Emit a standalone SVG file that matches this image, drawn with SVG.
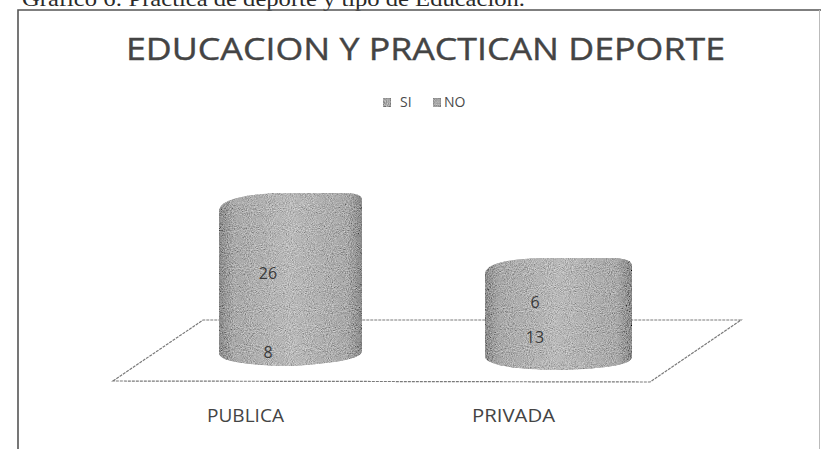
<svg xmlns="http://www.w3.org/2000/svg" width="821" height="449" viewBox="0 0 821 449">
<style>
.cap{font-family:"Liberation Serif","Times New Roman",serif;font-size:21px;fill:#2a2a2a}
.title{font-family:"Open Sans","Liberation Sans",sans-serif;font-size:31px;fill:#444;stroke:#444;stroke-width:0.4}
.leg{font-family:"Open Sans","Liberation Sans",sans-serif;font-size:14px;fill:#4a4a4a}
.cat{font-family:"Open Sans","Liberation Sans",sans-serif;font-size:19px;fill:#444}
.val{font-family:"Open Sans","Liberation Sans",sans-serif;font-size:16px;fill:#3a3a3a;text-anchor:middle}
.cyl{fill:url(#cylg);filter:url(#grain)}
.plane{fill:none;stroke:#7a7a7a;stroke-width:1.2;stroke-dasharray:3 1}
.mk{fill:#9a9a9a;stroke:#666;stroke-width:1;filter:url(#grain)}
</style>
<defs>
<linearGradient id="cylg" x1="0" y1="0" x2="1" y2="0">
<stop offset="0" stop-color="#777"/>
<stop offset="0.1" stop-color="#999"/>
<stop offset="0.5" stop-color="#ababab"/>
<stop offset="0.9" stop-color="#999"/>
<stop offset="1" stop-color="#747474"/>
</linearGradient>
<filter id="grain" x="0" y="0" width="100%" height="100%">
<feTurbulence type="fractalNoise" baseFrequency="0.95" numOctaves="2" seed="4" result="n"/>
<feColorMatrix in="n" type="matrix" values="0.33 0.33 0.33 0 0  0.33 0.33 0.33 0 0  0.33 0.33 0.33 0 0  0 0 0 0 1" result="g"/>
<feComposite in="g" in2="SourceGraphic" operator="arithmetic" k1="0" k2="1.1" k3="1" k4="-0.47" result="m"/>
<feComposite in="m" in2="SourceGraphic" operator="in"/>
</filter>
</defs>

<g id="caption">
<text class="cap" x="22" y="6" textLength="503" lengthAdjust="spacingAndGlyphs">Gráfico 6: Práctica de deporte y tipo de Educación.</text>
</g>

<g id="frame">
<path d="M18,449 V10 H821" fill="none" stroke="#555" stroke-width="1.6"/>
<path d="M819.5,10 V449" fill="none" stroke="#bbb" stroke-width="1"/>
</g>

<g id="title">
<text class="title" x="126" y="60" textLength="599" lengthAdjust="spacingAndGlyphs">EDUCACION Y PRACTICAN DEPORTE</text>
</g>

<g id="legend">
<rect class="mk" x="383" y="98" width="8" height="9"/>
<text class="leg" x="400" y="107">SI</text>
<rect class="mk" x="433" y="98" width="8" height="9"/>
<text class="leg" x="444" y="107">NO</text>
</g>

<g id="floor">
<polygon class="plane" points="113,381 203,320 741,320 650,382"/>
</g>

<g id="publica">
<path class="cyl" d="M219,210 Q222,195 280,193 L345,193 Q362,193 362,200 L362,351 Q362,362 290,366 Q222,365 219,354 Z"/>
<text class="val" x="268" y="279">26</text>
<text class="val" x="268" y="358">8</text>
<text class="cat" x="207" y="422" textLength="77" lengthAdjust="spacingAndGlyphs">PUBLICA</text>
</g>

<g id="privada">
<path class="cyl" d="M485,273 Q488,259 545,258 L615,258 Q632,259 632,266 L632,357 Q632,368 560,370 Q488,369 485,357 Z"/>
<text class="val" x="535" y="308">6</text>
<text class="val" x="535" y="343">13</text>
<text class="cat" x="472" y="422" textLength="83" lengthAdjust="spacingAndGlyphs">PRIVADA</text>
</g>
</svg>
